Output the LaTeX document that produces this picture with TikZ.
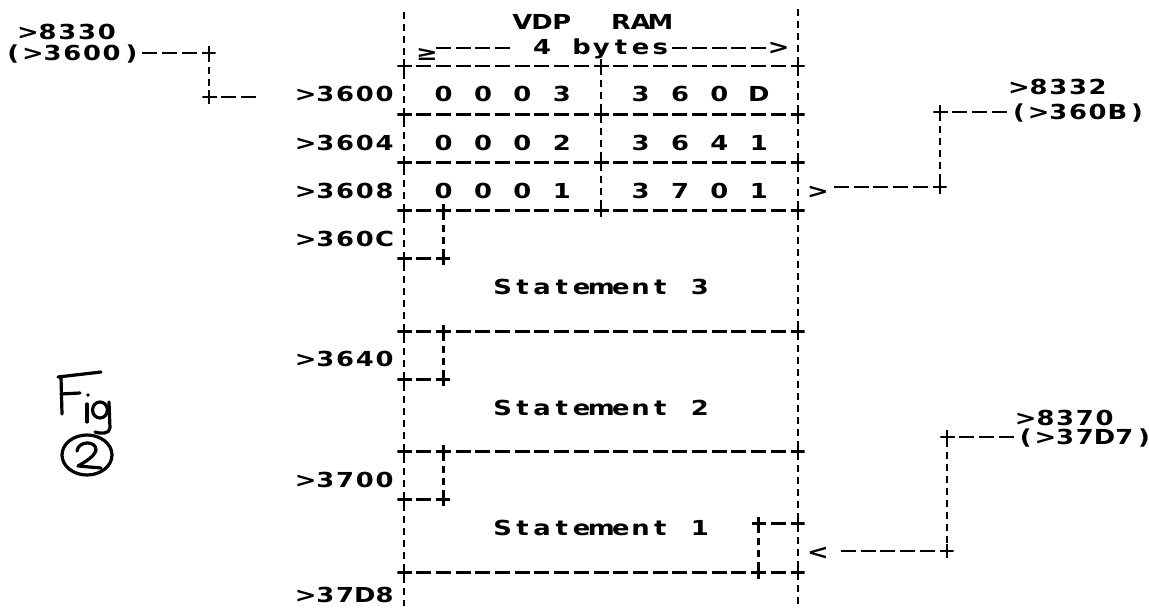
\documentclass[tikz,border=0pt]{standalone}
\usepackage{graphicx}
\usepackage{fontspec}
\newfontfamily\dmfont{DejaVu Sans}
\newlength\cw \setlength\cw{14.775pt}
\def\gridloop#1{\ifx#1\relax\else\makebox[\cw]{\scalebox{1.25}[1]{#1}}\expandafter\gridloop\fi}
\newcommand\gridtext[1]{\gridloop#1\relax}
% grid: column c -> x = 404+19.7c px ; rule row k -> y = 66+24.1k px ; text centre 4px lower
\newcommand\mytxt[4]{\node[lbl] (#1) at ({404+19.7*(#2)-9.85},{66+24.1*(#3)+11.8}) {\gridtext{#4}};}
% free text: first column c, text centre y in px
\newcommand\pxtxt[4]{\node[lbl] (#1) at ({404+19.7*(#2)-9.85},{#3+7.8}) {\gridtext{#4}};}
\newcommand\myjn[3]{\node[junc] (#1) at ({404+19.7*(#2)},{66+24.1*(#3)}) {};}
\newcommand\pxjn[3]{\node[junc] (#1) at (#2,#3) {};}
\newcommand\mypt[3]{\coordinate (#1) at ({404+19.7*(#2)},{66+24.1*(#3)});}
\tikzset{
  lbl/.style={anchor=base west, inner sep=0pt, font=\dmfont\bfseries\fontsize{15.5}{18}\selectfont},
  junc/.style={inner sep=0pt, minimum size=9.8pt,
    path picture={\draw[line width=2.2pt] (path picture bounding box.north) -- (path picture bounding box.south)
      (path picture bounding box.west) -- (path picture bounding box.east);}},
  hd/.style={line width=2.2pt, dash pattern=on 11.25pt off 3.525pt, dash phase=5.625pt},
  hdz/.style={line width=2.2pt, dash pattern=on 11.25pt off 3.525pt},
  vd/.style={line width=2.2pt, dash pattern=on 5.25pt off 3.75pt, dash phase=7.125pt},
  hand/.style={line width=2.4pt, line cap=round, line join=round}
}
\begin{document}
\begin{tikzpicture}[x=0.75pt,y=-0.75pt]
\path[fill=white,use as bounding box] (0,0) rectangle (1149,609);

% ---- main frame verticals
\mypt{Ltop}{0}{-2.35} \mypt{Lbot}{0}{22.4}
\mypt{Rtop}{20}{-2.45} \mypt{Rbot}{20}{22.4}
\draw[vd] (Ltop) -- (Lbot);
\draw[vd] (Rtop) -- (Rbot);

% ---- header
\pxtxt{vdp}{6}{22}{VDP~~RAM}
\node[lbl] (larr) at ({404+19.7*1-7},{53+7.8}) {\gridtext{≥}};
\coordinate (bl1) at ({404+19.7*1.62},48); \coordinate (bl2) at ({404+19.7*5.38},48);
\coordinate (br1) at ({404+19.7*13.62},48); \coordinate (br2) at ({404+19.7*18.38},48);
\draw[hdz] (bl1) -- (bl2);
\draw[hdz] (br1) -- (br2);
\pxtxt{bytes}{7}{47}{4~bytes}
\pxtxt{rarr}{19}{47}{>}

% ---- junctions
\myjn{L0}{0}{0} \myjn{M0}{10}{0} \myjn{R0}{20}{0}
\myjn{L2}{0}{2} \myjn{M2}{10}{2} \myjn{R2}{20}{2}
\myjn{L4}{0}{4} \myjn{M4}{10}{4} \myjn{R4}{20}{4}
\myjn{L6}{0}{6} \myjn{S6}{2}{6} \myjn{M6}{10}{6} \myjn{R6}{20}{6}
\myjn{L8}{0}{8} \myjn{S8}{2}{8}
\myjn{L11}{0}{11} \myjn{S11}{2}{11} \myjn{R11}{20}{11}
\myjn{L13}{0}{13} \myjn{S13}{2}{13}
\myjn{L16}{0}{16} \myjn{S16}{2}{16} \myjn{R16}{20}{16}
\myjn{L18}{0}{18} \myjn{S18}{2}{18}
\myjn{T19}{18}{19} \myjn{R19}{20}{19}
\myjn{L21}{0}{21} \myjn{T21}{18}{21} \myjn{R21}{20}{21}

% ---- horizontal rules
\draw[hd] (L0.center) -- (R0.center);
\draw[hd] (L2.center) -- (R2.center);
\draw[hd] (L4.center) -- (R4.center);
\draw[hd] (L6.center) -- (R6.center);
\draw[hd] (L8.center) -- (S8.center);
\draw[hd] (L11.center) -- (R11.center);
\draw[hd] (L13.center) -- (S13.center);
\draw[hd] (L16.center) -- (R16.center);
\draw[hd] (L18.center) -- (S18.center);
\draw[hd] (T19.center) -- (R19.center);
\draw[hd] (L21.center) -- (R21.center);

% ---- inner verticals
\draw[vd] (M0.center) -- (M6.center);
\draw[vd] (S6.center) -- (S8.center);
\draw[vd] (S11.center) -- (S13.center);
\draw[vd] (S16.center) -- (S18.center);
\draw[vd] (T19.center) -- (T21.center);

% ---- table contents
\mytxt{l3600}{-5}{1}{>3600}
\mytxt{v1a}{2}{1}{0~0~0~3}
\mytxt{v1b}{12}{1}{3~6~0~D}
\mytxt{l3604}{-5}{3}{>3604}
\mytxt{v2a}{2}{3}{0~0~0~2}
\mytxt{v2b}{12}{3}{3~6~4~1}
\mytxt{l3608}{-5}{5}{>3608}
\mytxt{v3a}{2}{5}{0~0~0~1}
\mytxt{v3b}{12}{5}{3~7~0~1}
\mytxt{arr3}{21}{5}{>}
\mytxt{l360C}{-5}{7}{>360C}
\mytxt{st3}{5}{9}{Statement~3}
\mytxt{l3640}{-5}{12}{>3640}
\mytxt{st2}{5}{14}{Statement~2}
\mytxt{l3700}{-5}{17}{>3700}
\mytxt{st1}{5}{19}{Statement~1}
\mytxt{arr20}{21}{20}{<}
\pxtxt{l37D8}{-5}{595}{>37D8}

% ---- left pointer >8330
\pxtxt{a8330}{-19.1}{32}{>8330}
\pxtxt{a3600}{-19.85}{53}{(>3600)}
\pxjn{P1}{209}{53} \pxjn{P2}{209}{97}
\coordinate (P1e) at (142,53); \coordinate (P2e) at (258,97);
\draw[hd] (P1.center) -- (P1e);
\draw[vd] (P1.center) -- (P2.center);
\draw[hd] (P2.center) -- (P2e);

% ---- right pointer >8332
\pxtxt{a8332}{31.2}{87}{>8332}
\pxtxt{a360B}{31.2}{112}{(>360B)}
\pxjn{Q1}{940}{112} \pxjn{Q2}{940}{187}
\coordinate (Q1e) at (1007,112); \coordinate (Q2e) at (832,187);
\draw[hd] (Q1.center) -- (Q1e);
\draw[vd] (Q1.center) -- (Q2.center);
\draw[hd] (Q2.center) -- (Q2e);

% ---- right pointer >8370
\pxtxt{a8370}{31.55}{418}{>8370}
\pxtxt{a37D7}{31.55}{437}{(>37D7)}
\pxjn{U1}{947}{437} \pxjn{U2}{947}{551}
\coordinate (U1e) at (1014,437); \coordinate (U2e) at (839,551);
\draw[hd] (U1.center) -- (U1e);
\draw[vd] (U1.center) -- (U2.center);
\draw[hd] (U2.center) -- (U2e);

% ---- handwritten "Fig (2)"
\draw[hand] (58,377) -- (101,372);
\draw[hand] (61,377) -- (62,414);
\draw[hand] (61,394) -- (80,393);
\fill (88,395) circle (1.8);
\draw[hand] (87,404) -- (87,422);
\draw[hand] (100,410) ellipse [x radius=7.5, y radius=8];
\draw[hand] (109,402) -- (110,428) .. controls (110,434) and (100,434) .. (95,432);
\draw[hand] (87,455) ellipse [x radius=25, y radius=20];
\draw[hand] (77,451) .. controls (78,441) and (96,440) .. (96,450) .. controls (95,456) and (85,462) .. (78,466) -- (101,468);
\end{tikzpicture}
\end{document}
